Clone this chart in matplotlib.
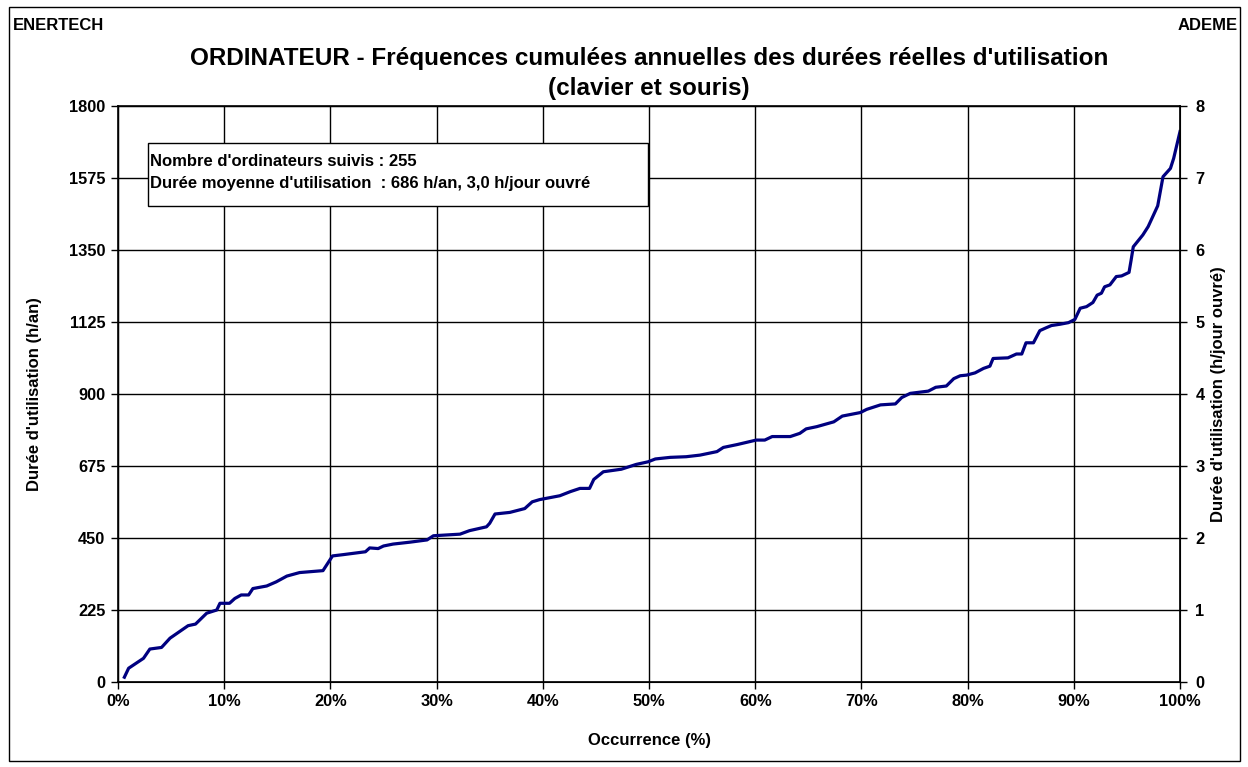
import numpy as np
import matplotlib
matplotlib.use("Agg")
import matplotlib.pyplot as plt
from matplotlib.patches import Rectangle

plt.rcParams["font.family"] = ["Liberation Sans", "DejaVu Sans"]
plt.rcParams["font.weight"] = "bold"

# Données : occurrence (%) et durée (h/an)
occurrence = [0.6, 1.0, 2.4, 3.0, 4.1, 4.9, 6.6, 7.3, 8.35, 9.3, 9.6, 10.5, 11.0, 11.6,
              12.3, 12.7, 14.0, 14.9, 15.9, 17.1, 19.3, 20.2, 21.2, 23.3, 23.7, 24.5,
              25.0, 25.9, 27.5, 29.1, 29.7, 32.2, 33.1, 34.7, 35.0, 35.5, 36.9, 38.3,
              39.0, 39.7, 41.6, 42.6, 43.5, 44.4, 44.8, 45.7, 47.4, 48.8, 49.9, 50.6,
              52.0, 53.5, 54.8, 56.4, 57.0, 58.3, 60.1, 60.9, 61.6, 63.3, 64.2, 64.8,
              65.8, 67.4, 68.2, 69.9, 70.5, 71.8, 73.2, 73.8, 74.6, 76.3, 77.0, 78.0,
              78.7, 79.3, 79.9, 80.7, 81.5, 82.1, 82.4, 83.8, 84.6, 85.1, 85.5, 86.2,
              86.8, 87.4, 87.9, 88.7, 89.5, 90.1, 90.6, 91.2, 91.8, 92.2, 92.6, 92.9,
              93.4, 94.0, 94.5, 95.2, 95.4, 95.6, 96.5, 97.0, 97.5, 97.9, 98.4, 99.1,
              99.4, 100.0]
duree = [15, 43, 74, 103, 108, 137, 176, 181, 215, 225, 246, 246, 261, 272,
         272, 292, 300, 313, 331, 342, 348, 394, 398, 407, 419, 417,
         425, 431, 437, 444, 457, 462, 473, 485, 496, 525, 530, 542,
         563, 570, 582, 595, 605, 605, 633, 657, 665, 680, 688, 697,
         702, 704, 709, 720, 733, 742, 756, 756, 767, 767, 777, 791,
         798, 813, 831, 842, 852, 866, 869, 889, 902, 909, 921, 925,
         948, 957, 959, 966, 980, 987, 1011, 1013, 1025, 1025, 1060, 1060,
         1098, 1107, 1114, 1118, 1123, 1133, 1168, 1173, 1186, 1209, 1215, 1235,
         1241, 1267, 1269, 1280, 1319, 1360, 1397, 1423, 1459, 1488, 1579, 1605,
         1636, 1720]

yticks_an = [0, 225, 450, 675, 900, 1125, 1350, 1575, 1800]
yticks_jour = [0, 1, 2, 3, 4, 5, 6, 7, 8]
xticks = list(range(0, 101, 10))
xtick_labels = [f"{v}%" for v in xticks]

fig = plt.figure(figsize=(12.48, 7.67), dpi=100)
ax = fig.add_axes([118 / 1248, 1 - 682 / 767, 1062 / 1248, 576 / 767])

ax.plot(occurrence, duree, color="#000080", lw=2.3, solid_joinstyle="round")
ax.set_xlim(0, 100)
ax.set_ylim(0, 1800)
ax.set_xticks(xticks)
ax.set_xticklabels(xtick_labels)
ax.set_yticks(yticks_an)
ax.grid(True, color="black", lw=1)
ax.tick_params(axis="both", labelsize=11.8, direction="out", length=5, width=1, pad=4)
for s in ax.spines.values():
    s.set_linewidth(1.2)
ax.set_xlabel("Occurrence (%)", fontsize=12, fontweight="bold")
ax.set_ylabel("Durée d'utilisation (h/an)", fontsize=12, fontweight="bold")
ax.xaxis.set_label_coords(0.5, (682 - 733) / 576)
ax.yaxis.set_label_coords((42 - 118) / 1062, 0.5)

ax2 = ax.twinx()
ax2.set_ylim(0, 8)
ax2.set_yticks(yticks_jour)
ax2.tick_params(axis="y", labelsize=11.8, direction="out", length=5, width=1, pad=6)
ax2.set_ylabel("Durée d'utilisation (h/jour ouvré)", fontsize=12, fontweight="bold")
ax2.yaxis.set_label_coords((1211 - 118) / 1062, 0.5)

# Encadré d'information
ax.add_patch(Rectangle((0.0282, 0.826), 0.471, 0.11, transform=ax.transAxes,
                       facecolor="white", edgecolor="black", lw=1, zorder=5))
ax.text(0.0301, 0.9028, "Nombre d'ordinateurs suivis : 255", transform=ax.transAxes,
        fontsize=12, fontweight="bold", va="center", zorder=6)
ax.text(0.0301, 0.8663, "Durée moyenne d'utilisation  : 686 h/an, 3,0 h/jour ouvré",
        transform=ax.transAxes, fontsize=12, fontweight="bold", va="center", zorder=6)

fig.text(649 / 1248, 1 - 58 / 767,
         "ORDINATEUR - Fréquences cumulées annuelles des durées réelles d'utilisation",
         ha="center", va="center", fontsize=17.5, fontweight="bold")
fig.text(649 / 1248, 1 - 88 / 767, "(clavier et souris)",
         ha="center", va="center", fontsize=17.5, fontweight="bold")
fig.text(13 / 1248, 1 - 26 / 767, "ENERTECH", ha="left", va="center", fontsize=12, fontweight="bold")
fig.text(1238 / 1248, 1 - 26 / 767, "ADEME", ha="right", va="center", fontsize=12, fontweight="bold")

fig.patches.append(Rectangle((9 / 1248, 6 / 767), 1231 / 1248, 754 / 767,
                             transform=fig.transFigure, fill=False, edgecolor="black", lw=1))

fig.savefig("out.png", dpi=100)
